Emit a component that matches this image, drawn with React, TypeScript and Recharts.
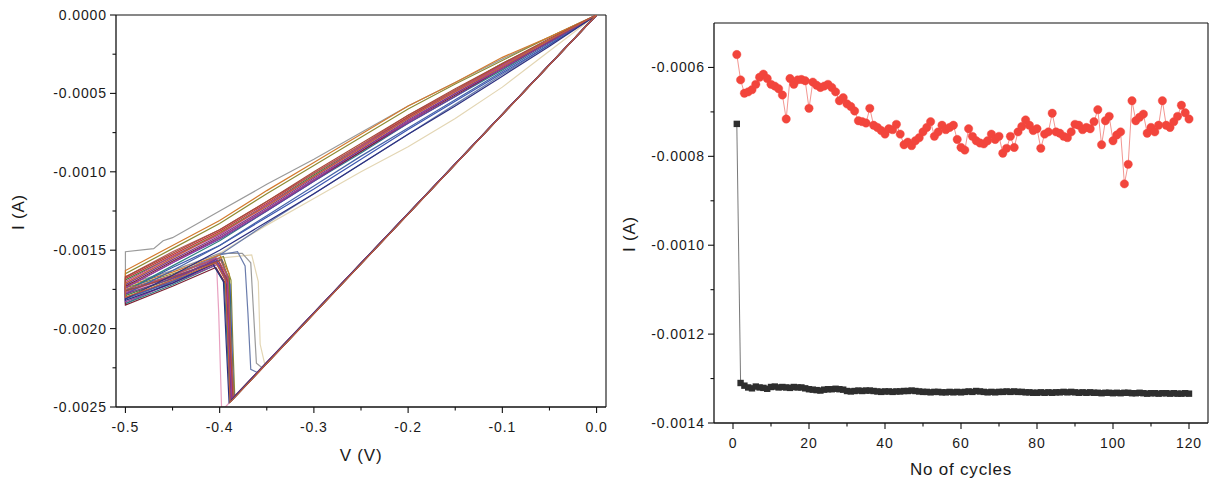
import React from 'react';
import { LineChart, Line, XAxis, YAxis, Label, ReferenceLine } from 'recharts';

const FONT = 'Arial, "Liberation Sans", Helvetica, sans-serif';

// ---------- Left panel: I-V loops (V in volts, I in amps) ----------
const ivVoltTicks = [-0.5, -0.45, -0.4, -0.35, -0.3, -0.25, -0.2, -0.15, -0.1, -0.05, 0];
const ivCurrentTicks = [-0.0025, -0.00225, -0.002, -0.00175, -0.0015, -0.00125, -0.001, -0.00075, -0.0005, -0.00025, 0];

type P = [number, number];
const ivCycle1: P[] = [[0,0],[-0.388,-0.00246],[-0.391,-0.0021],[-0.394,-0.00168],[-0.405,-0.00157],[-0.45,-0.00168],[-0.5,-0.00178],[-0.5,-0.00172],[-0.45,-0.00156],[-0.4,-0.00141],[-0.35,-0.00123],[-0.3,-0.00104],[-0.25,-0.00086],[-0.2,-0.00067],[-0.15,-0.0005],[-0.1,-0.00033],[-0.05,-0.00017],[0,0]];
const ivCycle2: P[] = [[0,0],[-0.386,-0.00245],[-0.389,-0.0021],[-0.391,-0.0017],[-0.402,-0.00158],[-0.45,-0.0017],[-0.5,-0.0018],[-0.5,-0.00168],[-0.45,-0.00153],[-0.4,-0.00138],[-0.35,-0.0012],[-0.3,-0.00101],[-0.25,-0.00083],[-0.2,-0.00065],[-0.15,-0.00048],[-0.1,-0.00032],[-0.05,-0.00016],[0,0]];
const ivCycle3: P[] = [[0,0],[-0.385,-0.00244],[-0.387,-0.0021],[-0.389,-0.00172],[-0.398,-0.00156],[-0.45,-0.00167],[-0.5,-0.00176],[-0.5,-0.00176],[-0.45,-0.00161],[-0.4,-0.00147],[-0.35,-0.00129],[-0.3,-0.00111],[-0.25,-0.00092],[-0.2,-0.00073],[-0.15,-0.00055],[-0.1,-0.00037],[-0.05,-0.00019],[0,0]];
const ivCycle4: P[] = [[0,0],[-0.384,-0.00243],[-0.386,-0.0021],[-0.388,-0.00169],[-0.396,-0.00154],[-0.45,-0.00165],[-0.5,-0.00174],[-0.5,-0.00165],[-0.45,-0.00149],[-0.4,-0.00133],[-0.35,-0.00114],[-0.3,-0.00096],[-0.25,-0.00078],[-0.2,-0.0006],[-0.15,-0.00044],[-0.1,-0.00029],[-0.05,-0.00014],[0,0]];
const ivCycle5: P[] = [[0,0],[-0.39,-0.00247],[-0.393,-0.0021],[-0.396,-0.0017],[-0.407,-0.00159],[-0.45,-0.00171],[-0.5,-0.00182],[-0.5,-0.00181],[-0.45,-0.00166],[-0.4,-0.0015],[-0.35,-0.00132],[-0.3,-0.00114],[-0.25,-0.00095],[-0.2,-0.00076],[-0.15,-0.00058],[-0.1,-0.00039],[-0.05,-0.0002],[0,0]];
const ivCycle6: P[] = [[0,0],[-0.387,-0.00245],[-0.39,-0.0021],[-0.392,-0.00166],[-0.403,-0.00155],[-0.45,-0.00166],[-0.5,-0.00177],[-0.5,-0.0017],[-0.45,-0.00154],[-0.4,-0.0014],[-0.35,-0.00121],[-0.3,-0.00103],[-0.25,-0.00084],[-0.2,-0.00066],[-0.15,-0.00049],[-0.1,-0.00032],[-0.05,-0.00016],[0,0]];
const ivCycle7: P[] = [[0,0],[-0.386,-0.00245],[-0.388,-0.0021],[-0.39,-0.00165],[-0.4,-0.00153],[-0.45,-0.00164],[-0.5,-0.00173],[-0.5,-0.00163],[-0.45,-0.00147],[-0.4,-0.00131],[-0.35,-0.00112],[-0.3,-0.00094],[-0.25,-0.00076],[-0.2,-0.00058],[-0.15,-0.00043],[-0.1,-0.00027],[-0.05,-0.00014],[0,0]];
const ivCycle8: P[] = [[0,0],[-0.389,-0.00247],[-0.392,-0.0021],[-0.395,-0.00171],[-0.406,-0.0016],[-0.45,-0.00172],[-0.5,-0.00184],[-0.5,-0.00176],[-0.45,-0.0016],[-0.4,-0.00144],[-0.35,-0.00125],[-0.3,-0.00106],[-0.25,-0.00088],[-0.2,-0.00069],[-0.15,-0.00052],[-0.1,-0.00035],[-0.05,-0.00017],[0,0]];
const ivCycle9: P[] = [[0,0],[-0.388,-0.00246],[-0.39,-0.0021],[-0.393,-0.00172],[-0.404,-0.00161],[-0.45,-0.00173],[-0.5,-0.00185],[-0.5,-0.00173],[-0.45,-0.00157],[-0.4,-0.00142],[-0.35,-0.00124],[-0.3,-0.00105],[-0.25,-0.00087],[-0.2,-0.00068],[-0.15,-0.00051],[-0.1,-0.00034],[-0.05,-0.00017],[0,0]];
const ivCycle10: P[] = [[0,0],[-0.385,-0.00244],[-0.388,-0.0021],[-0.39,-0.00168],[-0.399,-0.00156],[-0.45,-0.00168],[-0.5,-0.00179],[-0.5,-0.00169],[-0.45,-0.00154],[-0.4,-0.00139],[-0.35,-0.00121],[-0.3,-0.00102],[-0.25,-0.00084],[-0.2,-0.00065],[-0.15,-0.00048],[-0.1,-0.00031],[-0.05,-0.00016],[0,0]];
const ivCycle11: P[] = [[0,0],[-0.387,-0.00245],[-0.39,-0.0021],[-0.393,-0.00167],[-0.404,-0.00156],[-0.45,-0.00169],[-0.5,-0.00181],[-0.5,-0.00174],[-0.45,-0.00158],[-0.4,-0.00143],[-0.35,-0.00125],[-0.3,-0.00106],[-0.25,-0.00087],[-0.2,-0.00069],[-0.15,-0.00052],[-0.1,-0.00034],[-0.05,-0.00017],[0,0]];
const ivCycle12: P[] = [[0,0],[-0.386,-0.00245],[-0.389,-0.0021],[-0.392,-0.00169],[-0.401,-0.00157],[-0.45,-0.00167],[-0.5,-0.00176],[-0.5,-0.00167],[-0.45,-0.00152],[-0.4,-0.00137],[-0.35,-0.00119],[-0.3,-0.001],[-0.25,-0.00082],[-0.2,-0.00064],[-0.15,-0.00047],[-0.1,-0.00031],[-0.05,-0.00015],[0,0]];
const ivCycle13: P[] = [[0,0],[-0.355,-0.00225],[-0.361,-0.00222],[-0.364,-0.0019],[-0.367,-0.00158],[-0.376,-0.00152],[-0.4,-0.00152],[-0.45,-0.00163],[-0.5,-0.00172],[-0.5,-0.00151],[-0.47,-0.00149],[-0.46,-0.00144],[-0.45,-0.00142],[-0.4,-0.00125],[-0.35,-0.00108],[-0.3,-0.00092],[-0.25,-0.00075],[-0.2,-0.00058],[-0.15,-0.00043],[-0.1,-0.00028],[-0.05,-0.00014],[0,0]];
const ivCycle14: P[] = [[0,0],[-0.36,-0.00228],[-0.367,-0.00226],[-0.37,-0.0019],[-0.373,-0.0016],[-0.381,-0.00151],[-0.4,-0.00153],[-0.45,-0.00166],[-0.5,-0.00176],[-0.5,-0.00184],[-0.45,-0.0017],[-0.4,-0.00153],[-0.35,-0.00133],[-0.3,-0.00114],[-0.25,-0.00095],[-0.2,-0.00076],[-0.15,-0.00057],[-0.1,-0.00038],[-0.05,-0.00019],[0,0]];
const ivCycle15: P[] = [[0,0],[-0.394,-0.0025],[-0.398,-0.0025],[-0.401,-0.0019],[-0.403,-0.00163],[-0.412,-0.00156],[-0.45,-0.00167],[-0.5,-0.00177],[-0.5,-0.00171],[-0.45,-0.00155],[-0.4,-0.0014],[-0.35,-0.00122],[-0.3,-0.00103],[-0.25,-0.00085],[-0.2,-0.00066],[-0.15,-0.00049],[-0.1,-0.00032],[-0.05,-0.00016],[0,0]];
const ivCycle16: P[] = [[0,0],[-0.352,-0.00223],[-0.357,-0.0021],[-0.359,-0.0017],[-0.366,-0.00153],[-0.4,-0.00155],[-0.45,-0.00166],[-0.5,-0.00178],[-0.5,-0.00183],[-0.45,-0.00168],[-0.4,-0.00152],[-0.35,-0.00134],[-0.3,-0.00117],[-0.25,-0.001],[-0.2,-0.00084],[-0.15,-0.00066],[-0.1,-0.00046],[-0.05,-0.00023],[0,0]];
const ivCycle17: P[] = [[0,0],[-0.389,-0.00247],[-0.391,-0.0021],[-0.394,-0.00169],[-0.404,-0.00158],[-0.45,-0.00169],[-0.5,-0.0018],[-0.5,-0.00171],[-0.45,-0.00155],[-0.4,-0.00139],[-0.35,-0.00122],[-0.3,-0.00103],[-0.25,-0.00085],[-0.2,-0.00066],[-0.15,-0.00049],[-0.1,-0.00033],[-0.05,-0.00016],[0,0]];
const ivCycle18: P[] = [[0,0],[-0.387,-0.00245],[-0.39,-0.0021],[-0.392,-0.00171],[-0.402,-0.00159],[-0.45,-0.00171],[-0.5,-0.00183],[-0.5,-0.00174],[-0.45,-0.00158],[-0.4,-0.00142],[-0.35,-0.00124],[-0.3,-0.00105],[-0.25,-0.00086],[-0.2,-0.00068],[-0.15,-0.0005],[-0.1,-0.00034],[-0.05,-0.00017],[0,0]];
const ivCycle19: P[] = [[0,0],[-0.385,-0.00244],[-0.388,-0.0021],[-0.391,-0.00167],[-0.4,-0.00155],[-0.45,-0.00166],[-0.5,-0.00175],[-0.5,-0.00167],[-0.45,-0.00151],[-0.4,-0.00137],[-0.35,-0.00119],[-0.3,-0.00101],[-0.25,-0.00083],[-0.2,-0.00064],[-0.15,-0.00048],[-0.1,-0.00031],[-0.05,-0.00016],[0,0]];
const ivCycle20: P[] = [[0,0],[-0.388,-0.00246],[-0.391,-0.0021],[-0.393,-0.0017],[-0.403,-0.00158],[-0.45,-0.0017],[-0.5,-0.00181],[-0.5,-0.00178],[-0.45,-0.00163],[-0.4,-0.00147],[-0.35,-0.00128],[-0.3,-0.00109],[-0.25,-0.0009],[-0.2,-0.00072],[-0.15,-0.00054],[-0.1,-0.00036],[-0.05,-0.00018],[0,0]];

const ivSeries: { name: string; color: string; pts: P[] }[] = [
  { name: 'c16', color: '#e3d6b4', pts: ivCycle16 },
  { name: 'c13', color: '#9a9a9a', pts: ivCycle13 },
  { name: 'c15', color: '#e8a0c0', pts: ivCycle15 },
  { name: 'c14', color: '#6a7cac', pts: ivCycle14 },
  { name: 'c4', color: '#8c8a32', pts: ivCycle4 },
  { name: 'c7', color: '#d47a2c', pts: ivCycle7 },
  { name: 'c3', color: '#3a55b0', pts: ivCycle3 },
  { name: 'c10', color: '#3a8c3c', pts: ivCycle10 },
  { name: 'c2', color: '#c8383c', pts: ivCycle2 },
  { name: 'c8', color: '#2e8080', pts: ivCycle8 },
  { name: 'c6', color: '#b8408c', pts: ivCycle6 },
  { name: 'c19', color: '#b55c5c', pts: ivCycle19 },
  { name: 'c11', color: '#6a3aa0', pts: ivCycle11 },
  { name: 'c20', color: '#4462a8', pts: ivCycle20 },
  { name: 'c12', color: '#a84a3a', pts: ivCycle12 },
  { name: 'c9', color: '#7c2234', pts: ivCycle9 },
  { name: 'c18', color: '#9c3c9c', pts: ivCycle18 },
  { name: 'c1', color: '#7d3c88', pts: ivCycle1 },
  { name: 'c5', color: '#2c3080', pts: ivCycle5 },
  { name: 'c17', color: '#c0603a', pts: ivCycle17 },
];

// ---------- Right panel: current vs cycle number ----------
const cycleTicks = [0, 10, 20, 30, 40, 50, 60, 70, 80, 90, 100, 110, 120];
const cycleCurrentTicks = [-0.0014, -0.0013, -0.0012, -0.0011, -0.001, -0.0009, -0.0008, -0.0007, -0.0006];

// values in units of 1e-4 A, cycles 1..120
const redCurrentE4 = [
  -5.71, -6.28, -6.58, -6.55, -6.5, -6.38, -6.22, -6.15, -6.25, -6.38,
  -6.42, -6.48, -6.62, -7.16, -6.25, -6.38, -6.28, -6.27, -6.3, -6.92,
  -6.33, -6.4, -6.45, -6.42, -6.38, -6.45, -6.55, -6.75, -6.68, -6.82,
  -6.88, -6.98, -7.2, -7.22, -7.25, -6.92, -7.3, -7.35, -7.42, -7.5,
  -7.38, -7.4, -7.28, -7.5, -7.74, -7.68, -7.76, -7.65, -7.58, -7.45,
  -7.35, -7.22, -7.55, -7.45, -7.3, -7.4, -7.35, -7.3, -7.62, -7.8,
  -7.86, -7.38, -7.55, -7.65, -7.7, -7.72, -7.65, -7.5, -7.62, -7.55,
  -7.93, -7.82, -7.55, -7.8, -7.45, -7.33, -7.18, -7.3, -7.42, -7.38,
  -7.82, -7.5, -7.45, -7.03, -7.45, -7.48, -7.55, -7.58, -7.45, -7.28,
  -7.3, -7.4, -7.35, -7.38, -7.22, -6.95, -7.74, -7.2, -7.1, -7.65,
  -7.52, -7.45, -8.62, -8.18, -6.75, -7.2, -7.12, -7.05, -7.48, -7.35,
  -7.45, -7.3, -6.75, -7.3, -7.35, -7.22, -7.1, -6.85, -7.02, -7.16,
];
const blackCurrentE4 = [
  -7.27, -13.1, -13.16, -13.2, -13.22, -13.18, -13.2, -13.21, -13.23, -13.19,
  -13.18, -13.2, -13.19, -13.2, -13.21, -13.19, -13.2, -13.2, -13.22, -13.24,
  -13.25, -13.26, -13.27, -13.25, -13.24, -13.24, -13.23, -13.24, -13.25, -13.28,
  -13.29, -13.28, -13.27, -13.28, -13.27, -13.27, -13.28, -13.29, -13.3, -13.29,
  -13.29, -13.3, -13.29, -13.29, -13.28, -13.28, -13.27, -13.28, -13.29, -13.3,
  -13.3, -13.31, -13.3, -13.3, -13.31, -13.31, -13.3, -13.31, -13.3, -13.31,
  -13.3, -13.29, -13.3, -13.28, -13.29, -13.3, -13.31, -13.3, -13.31, -13.3,
  -13.3, -13.29, -13.3, -13.29, -13.3, -13.3, -13.31, -13.31, -13.32, -13.32,
  -13.31, -13.32, -13.31, -13.32, -13.31, -13.31, -13.3, -13.31, -13.3, -13.31,
  -13.32, -13.31, -13.32, -13.31, -13.32, -13.32, -13.33, -13.32, -13.32, -13.33,
  -13.32, -13.33, -13.32, -13.32, -13.33, -13.33, -13.32, -13.33, -13.34, -13.33,
  -13.33, -13.34, -13.33, -13.33, -13.34, -13.33, -13.34, -13.34, -13.33, -13.34,
];

const cycleTable = redCurrentE4.map((r, k) => ({
  n: k + 1,
  red: r * 1e-4,
  black: blackCurrentE4[k] * 1e-4,
}));

// ---------- tick renderers ----------
const TXT = { fontFamily: FONT, fontSize: 14, fill: '#1a1a1a', letterSpacing: 0.9 } as const;

const makeYTick = (isMajor: (v: number) => boolean, fmt: (v: number) => string) => (props: any) => {
  const { x, y, payload } = props;
  const major = isMajor(payload.value);
  return (
    <g>
      <line x1={x - (major ? 6 : 3.5)} x2={x} y1={y} y2={y} stroke="#111" strokeWidth={1.1} />
      {major && (
        <text x={x - 9} y={y} dy="0.36em" textAnchor="end" {...TXT}>
          {fmt(payload.value)}
        </text>
      )}
    </g>
  );
};

const makeXTick = (isMajor: (v: number) => boolean, fmt: (v: number) => string) => (props: any) => {
  const { x, y, payload } = props;
  const major = isMajor(payload.value);
  return (
    <g>
      <line x1={x} x2={x} y1={y} y2={y + (major ? 6 : 3.5)} stroke="#111" strokeWidth={1.1} />
      {major && (
        <text x={x} y={y + 25} textAnchor="middle" {...TXT}>
          {fmt(payload.value)}
        </text>
      )}
    </g>
  );
};

const LeftYTick = makeYTick(
  (v) => Math.abs(Math.round(v * 1e5) % 50) === 0,
  (v) => (Math.abs(v) < 1e-9 ? '0.0000' : v.toFixed(4))
);
const LeftXTick = makeXTick(
  (v) => Math.abs(Math.round(v * 100) % 10) === 0,
  (v) => (Math.abs(v) < 1e-9 ? '0.0' : v.toFixed(1))
);
const RightYTick = makeYTick(
  (v) => Math.abs(Math.round(v * 1e4) % 2) === 0,
  (v) => v.toFixed(4)
);
const RightXTick = makeXTick(
  (v) => Math.round(v) % 20 === 0,
  (v) => String(Math.round(v))
);

const TITLE = { fontFamily: FONT, fontSize: 17, fill: '#1a1a1a', letterSpacing: 0.8 } as const;

const SquareDot = (props: any) => {
  const { cx, cy, index } = props;
  if (cx == null || cy == null) return <g key={index} />;
  return <rect key={index} x={cx - 3.2} y={cy - 3.2} width={6.4} height={6.4} fill="#2e2e2e" />;
};

const AXIS = { stroke: '#111', strokeWidth: 1.3 };

export default function App() {
  return (
    <div style={{ position: 'absolute', left: 0, top: 0, width: 1215, height: 486, background: '#fff', overflow: 'hidden' }}>
      <div style={{ position: 'absolute', left: 0, top: 0 }}>
        <LineChart width={620} height={486} margin={{ top: 15, right: 14, bottom: 19, left: 0 }}>
          <XAxis
            xAxisId="b"
            dataKey="v"
            type="number"
            domain={[-0.51, 0.01]}
            allowDataOverflow
            ticks={ivVoltTicks}
            interval={0}
            tickSize={0}
            tickMargin={0}
            tickLine={false}
            tick={LeftXTick}
            axisLine={AXIS}
            height={60}
          >
            <Label content={() => <text x={361} y={461} textAnchor="middle" {...TITLE}>V (V)</text>} />
          </XAxis>
          <YAxis
            yAxisId="l"
            dataKey="i"
            type="number"
            domain={[-0.0025, 0]}
            allowDataOverflow
            ticks={ivCurrentTicks}
            interval={0}
            tickSize={0}
            tickMargin={0}
            tickLine={false}
            tick={LeftYTick}
            axisLine={AXIS}
            width={116}
          >
            <Label content={() => <text x={18} y={212} dy="0.35em" textAnchor="middle" transform="rotate(-90 18 212)" {...TITLE}>I (A)</text>} />
          </YAxis>
          <ReferenceLine xAxisId="b" yAxisId="l" y={0} stroke="#111" strokeWidth={1.1} />
          <ReferenceLine xAxisId="b" yAxisId="l" x={0.01} stroke="#111" strokeWidth={1.1} />
          {ivSeries.map((s) => (
            <Line
              key={s.name}
              xAxisId="b"
              yAxisId="l"
              data={s.pts.map(([v, i]) => ({ v, i }))}
              dataKey="i"
              type="linear"
              stroke={s.color}
              strokeWidth={1.2}
              dot={false}
              activeDot={false}
              isAnimationActive={false}
            />
          ))}
        </LineChart>
      </div>

      <div style={{ position: 'absolute', left: 600, top: 0 }}>
        <LineChart width={615} height={486} data={cycleTable} margin={{ top: 23, right: 7, bottom: 13, left: 0 }}>
          <XAxis
            xAxisId="b"
            dataKey="n"
            type="number"
            domain={[-5, 125]}
            allowDataOverflow
            ticks={cycleTicks}
            interval={0}
            tickSize={0}
            tickMargin={0}
            tickLine={false}
            tick={RightXTick}
            axisLine={AXIS}
            height={50}
          >
            <Label content={() => <text x={361} y={475} textAnchor="middle" {...TITLE}>No of cycles</text>} />
          </XAxis>
          <YAxis
            yAxisId="l"
            type="number"
            domain={[-0.0014, -0.0005]}
            allowDataOverflow
            ticks={cycleCurrentTicks}
            interval={0}
            tickSize={0}
            tickMargin={0}
            tickLine={false}
            tick={RightYTick}
            axisLine={AXIS}
            width={114}
          >
            <Label content={() => <text x={29} y={234} dy="0.35em" textAnchor="middle" transform="rotate(-90 29 234)" {...TITLE}>I (A)</text>} />
          </YAxis>
          <ReferenceLine xAxisId="b" yAxisId="l" y={-0.0005} stroke="#111" strokeWidth={1.1} />
          <ReferenceLine xAxisId="b" yAxisId="l" x={125} stroke="#111" strokeWidth={1.1} />
          <Line
            xAxisId="b"
            yAxisId="l"
            dataKey="black"
            type="linear"
            stroke="#6a6a6a"
            strokeWidth={0.9}
            dot={SquareDot}
            activeDot={false}
            isAnimationActive={false}
          />
          <Line
            xAxisId="b"
            yAxisId="l"
            dataKey="red"
            type="linear"
            stroke="#f08a84"
            strokeWidth={0.9}
            dot={{ r: 4.2, fill: '#f2453c', stroke: '#f2453c', strokeWidth: 0.4 }}
            activeDot={false}
            isAnimationActive={false}
          />
        </LineChart>
      </div>
    </div>
  );
}
